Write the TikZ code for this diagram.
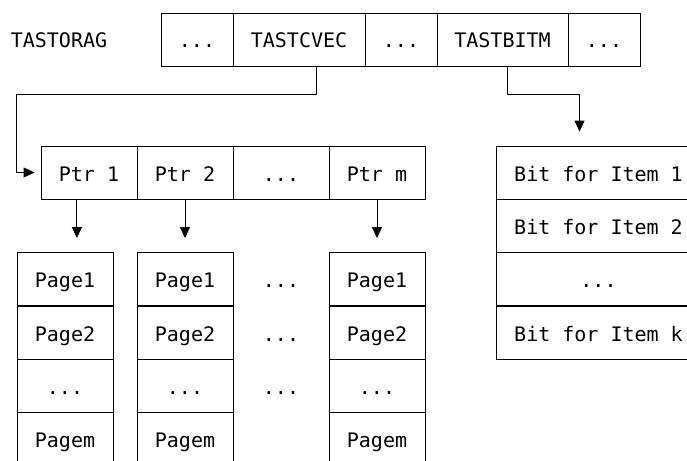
\documentclass[tikz,border=0pt]{standalone}
\usepackage{fontspec}
\setmonofont{DejaVu Sans Mono}
\usetikzlibrary{arrows.meta,calc}
\begin{document}
\begin{tikzpicture}[x=1pt,y=-1pt,
  txt/.style={font=\ttfamily\fontsize{20}{24}\selectfont,text height=17pt,text depth=0pt},
  cell/.style={txt,draw,line width=0.9pt,inner sep=0pt,minimum height=53pt},
  lbl/.style={txt,inner sep=0pt},
  arr/.style={line width=0.9pt,-{Triangle[width=10pt,length=11pt]}}]
\useasboundingbox (0,0) rectangle (687,460);
% top row
\node[lbl] (tastorag) at (59,39.5) {TASTORAG};
\node[cell,minimum width=72pt] (t1) at (197,39.5) {...};
\node[cell,minimum width=132pt] (cvec) at (299,39.5) {TASTCVEC};
\node[cell,minimum width=72pt] (t2) at (401,39.5) {...};
\node[cell,minimum width=131pt] (bitm) at (502.5,39.5) {TASTBITM};
\node[cell,minimum width=72pt] (t3) at (604,39.5) {...};
% pointer row
\node[cell,minimum width=96pt] (ptr1) at (89,172.5) {Ptr 1};
\node[cell,minimum width=96pt] (ptr2) at (185,172.5) {Ptr 2};
\node[cell,minimum width=96pt] (ptrd) at (281,172.5) {...};
\node[cell,minimum width=96pt] (ptrm) at (377,172.5) {Ptr m};
% page columns
\node[cell,minimum width=96pt] (p1) at (65,279) {Page1};
\node[cell,minimum width=96pt] (p2) at (65,332.5) {Page2};
\node[cell,minimum width=96pt] (p3) at (65,385.5) {...};
\node[cell,minimum width=96pt] (p4) at (65,438.5) {Pagem};
\node[cell,minimum width=96pt] (q1) at (185,279) {Page1};
\node[cell,minimum width=96pt] (q2) at (185,332.5) {Page2};
\node[cell,minimum width=96pt] (q3) at (185,385.5) {...};
\node[cell,minimum width=96pt] (q4) at (185,438.5) {Pagem};
\node[lbl] (e1) at (281,279) {...};
\node[lbl] (e2) at (281,332.5) {...};
\node[lbl] (e3) at (281,385.5) {...};
\node[cell,minimum width=96pt] (r1) at (377,279) {Page1};
\node[cell,minimum width=96pt] (r2) at (377,332.5) {Page2};
\node[cell,minimum width=96pt] (r3) at (377,385.5) {...};
\node[cell,minimum width=96pt] (r4) at (377,438.5) {Pagem};
% bit vector
\node[cell,minimum width=205pt] (b1) at (598.5,172.5) {Bit for Item 1};
\node[cell,minimum width=205pt] (b2) at (598.5,225.5) {Bit for Item 2};
\node[cell,minimum width=205pt] (b3) at (598.5,279) {...};
\node[cell,minimum width=205pt] (b4) at (598.5,332.5) {Bit for Item k};
% connectors
\coordinate (c1) at ($(cvec.south west)!0.63!(cvec.south east)$);
\draw[arr,shorten >=6pt] (c1) -- ++(0,28) -| ($(ptr1.west)+(-24,0)$) -- (ptr1.west);
\coordinate (c2) at ($(bitm.south west)!0.54!(bitm.south east)$);
\draw[arr,shorten >=14pt] (c2) -- ++(0,28) -| ($(b1.north west)+(84,0)$);
\coordinate (a1) at ($(ptr1.south west)!0.375!(ptr1.south east)$);
\draw[arr,shorten >=14pt] (a1) -- (a1 |- p1.north);
\draw[arr,shorten >=14pt] (ptr2.south) -- (q1.north);
\draw[arr,shorten >=14pt] (ptrm.south) -- (r1.north);
\end{tikzpicture}
\end{document}
